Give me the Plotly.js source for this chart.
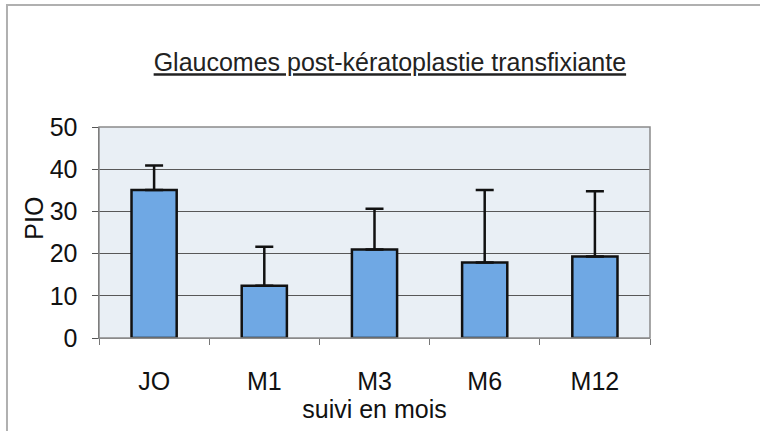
<!DOCTYPE html>
<html>
<head>
<meta charset="utf-8">
<script src="https://cdn.plot.ly/plotly-3.0.1.min.js"></script>
<style>
  body { margin: 0; background: #fff; }
  #chart { width: 760px; height: 431px; }
</style>
</head>
<body>
<div id="chart"></div>
<script>
// suivi en mois
var periods = ["JO", "M1", "M3", "M6", "M12"];
// PIO moyenne
var pioMean = [35.1, 12.4, 21.0, 17.9, 19.3];
// ecart type (barre au-dessus seulement)
var pioSd = [5.8, 9.2, 9.6, 17.2, 15.5];
var noLower = [0, 0, 0, 0, 0];

var trace = {
    x: periods,
    y: pioMean,
    type: 'bar',
    width: 0.41,
    marker: {
        color: "#6fa8e4",
        line: { color: "#111111", width: 2.5 }
    },
    error_y: {
        type: 'data',
        symmetric: false,
        array: pioSd,
        arrayminus: noLower,
        color: "#111111",
        thickness: 2.5,
        width: 9
    },
    hoverinfo: 'x+y'
};

var layout = {
    width: 760,
    height: 431,
    margin: { l: 99, r: 110, t: 127, b: 93 },
    paper_bgcolor: "#ffffff",
    plot_bgcolor: "#e9eff5",
    showlegend: false,
    font: { family: "Liberation Sans, Arial, sans-serif", color: "#111111", size: 25 },
    title: {
        text: "<u>Glaucomes post-kératoplastie transfixiante</u>",
        font: { size: 25, color: "#222222" },
        xref: 'container', yref: 'container',
        x: 0.513, y: 0.855,
        xanchor: 'center', yanchor: 'middle'
    },
    xaxis: {
        type: 'category',
        tickson: 'boundaries',
        ticks: 'outside',
        ticklen: 6,
        tickcolor: "#777777",
        showgrid: false,
        showline: true,
        linecolor: "#888888",
        linewidth: 1,
        ticklabelstandoff: 21,
        tickfont: { size: 25 },
        title: { text: "suivi en mois", font: { size: 25 }, standoff: 0 },
        automargin: false,
        fixedrange: true
    },
    yaxis: {
        range: [0, 50],
        dtick: 10,
        ticks: 'outside',
        ticklen: 6,
        tickcolor: "#555555",
        showline: true,
        linecolor: "#555555",
        linewidth: 1.5,
        gridcolor: "#585858",
        gridwidth: 1.2,
        zeroline: false,
        ticklabelstandoff: 9,
        tickfont: { size: 25 },
        automargin: false,
        fixedrange: true
    },
    annotations: [{
        text: "PIO",
        textangle: -90,
        xref: 'paper', yref: 'paper',
        x: -0.118, y: 0.57,
        xanchor: 'center', yanchor: 'middle',
        showarrow: false,
        font: { size: 25, color: "#111111" }
    }],
    shapes: [
        // cadre de la zone de tracé
        { type: 'rect', xref: 'paper', yref: 'paper', x0: 0, x1: 1, y0: 0, y1: 1,
          line: { color: "#8a8a8a", width: 1.5 }, layer: 'above' },
        // cadre extérieur du graphique
        { type: 'rect', xref: 'paper', yref: 'paper', x0: -0.167, x1: 1.45, y0: -0.6, y1: 1.578,
          line: { color: "#b0b0b0", width: 2 } }
    ]
};

Plotly.newPlot('chart', [trace], layout, { displayModeBar: false, staticPlot: true });
</script>
</body>
</html>
